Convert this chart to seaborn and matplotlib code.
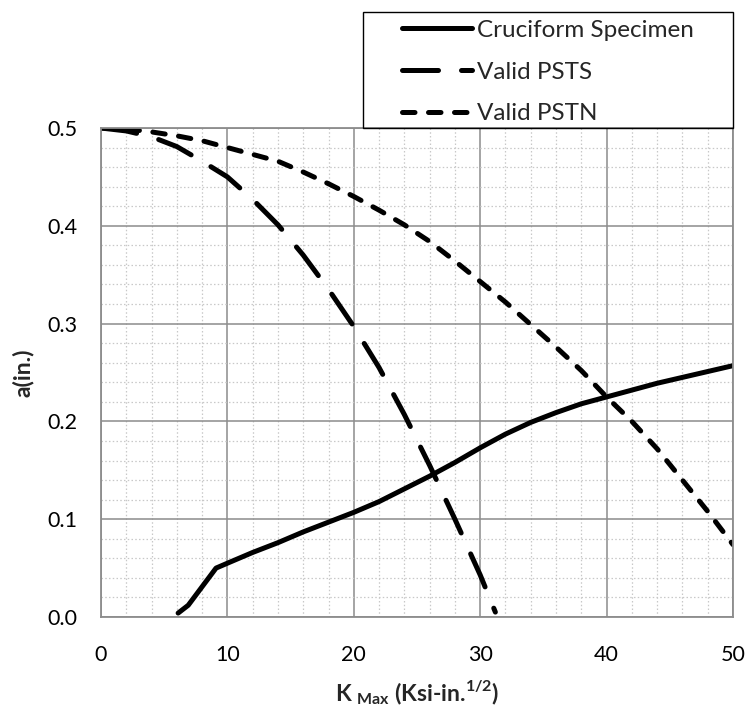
import matplotlib
matplotlib.use('Agg')
import matplotlib.pyplot as plt
import seaborn as sns
import pandas as pd
from matplotlib.patches import Rectangle
from matplotlib.ticker import MultipleLocator

# Datos
k_cruciform = [6.1, 6.9, 9.1, 10, 12, 14, 16, 18, 20, 22, 24, 26, 28, 30, 32, 34, 36, 38, 40, 42, 44, 46, 48, 50]
a_cruciform = [0.004, 0.012, 0.050, 0.055, 0.066, 0.076, 0.087, 0.097, 0.107, 0.118, 0.131, 0.144, 0.158, 0.173, 0.187, 0.199, 0.209, 0.218, 0.225, 0.232, 0.239, 0.245, 0.251, 0.257]

k_psts = [0, 2, 4, 6, 8, 10, 12, 14, 16, 18, 20, 22, 24, 26, 28, 30, 31.2]
a_psts = [0.500, 0.497, 0.491, 0.481, 0.466, 0.450, 0.427, 0.401, 0.370, 0.335, 0.297, 0.255, 0.207, 0.155, 0.100, 0.043, 0.005]

k_pstn = [0, 2, 4, 6, 8, 10, 12, 14, 16, 18, 20, 22, 24, 26, 28, 30, 32, 34, 36, 38, 40, 42, 44, 46, 48, 50]
a_pstn = [0.500, 0.499, 0.496, 0.492, 0.487, 0.480, 0.473, 0.466, 0.455, 0.443, 0.430, 0.416, 0.401, 0.384, 0.364, 0.343, 0.322, 0.299, 0.276, 0.252, 0.225, 0.200, 0.172, 0.140, 0.108, 0.074]

series = ['Cruciform Specimen', 'Valid PSTS', 'Valid PSTN']

sns.set_style('white')
plt.rcParams['font.family'] = ['Lato', 'DejaVu Sans']
plt.rcParams['mathtext.fontset'] = 'custom'
plt.rcParams['mathtext.rm'] = 'Lato'
plt.rcParams['mathtext.bf'] = 'Lato:bold'

fig, ax = plt.subplots(figsize=(7.5, 7.1), dpi=100)
fig.subplots_adjust(left=0.1347, right=0.9773, top=0.8197, bottom=0.131)

lw = 3.6
df_c = pd.DataFrame({'K': k_cruciform, 'a': a_cruciform})
df_s = pd.DataFrame({'K': k_psts, 'a': a_psts})
df_n = pd.DataFrame({'K': k_pstn, 'a': a_pstn})

sns.lineplot(data=df_c, x='K', y='a', color='black', lw=lw, label=series[0],
             solid_capstyle='round', ax=ax)
sns.lineplot(data=df_s, x='K', y='a', color='black', lw=lw, label=series[1],
             linestyle=(0, (7.2, 4.6)), dash_capstyle='round', ax=ax)
sns.lineplot(data=df_n, x='K', y='a', color='black', lw=lw, label=series[2],
             linestyle=(0, (2.5, 2.7)), dash_capstyle='round', ax=ax)

ax.set_xlim(0, 50)
ax.set_ylim(0, 0.5)
ax.xaxis.set_major_locator(MultipleLocator(10))
ax.xaxis.set_minor_locator(MultipleLocator(2))
ax.yaxis.set_major_locator(MultipleLocator(0.1))
ax.yaxis.set_minor_locator(MultipleLocator(0.02))
ax.yaxis.set_major_formatter(matplotlib.ticker.FormatStrFormatter('%.1f'))

ax.grid(which='major', color='#8c8c8c', lw=1.1)
ax.grid(which='minor', color='#c8c8c8', lw=0.9, linestyle=(0, (1.2, 1.8)))
ax.set_axisbelow(True)
for s in ax.spines.values():
    s.set_color('#8c8c8c')
    s.set_linewidth(1.3)

ax.tick_params(which='both', length=0, labelsize=15.5, colors='black')
ax.tick_params(axis='x', pad=20)
ax.tick_params(axis='y', pad=17)

ax.set_xlabel(r'K $_{\mathbf{Max}}$ (Ksi-in.$^{\mathbf{1/2}}$)', fontsize=16.5,
              fontweight='bold', labelpad=10)
ax.set_ylabel('a(in.)', fontsize=16.5, fontweight='bold', labelpad=10)

# Leyenda con marco propio encima del area de trazado
leg = ax.legend(loc='center', bbox_to_anchor=(548 / 750, 1 - 72 / 710),
                bbox_transform=fig.transFigure, frameon=False, fontsize=17.5,
                handlelength=2.9, handletextpad=0.2, labelspacing=0.85)
fig.patches.append(Rectangle((363 / 750, 1 - 128 / 710), 370 / 750, 116 / 710,
                             transform=fig.transFigure, fill=False,
                             edgecolor='black', lw=1.0))

fig.savefig('out.png', dpi=100)
